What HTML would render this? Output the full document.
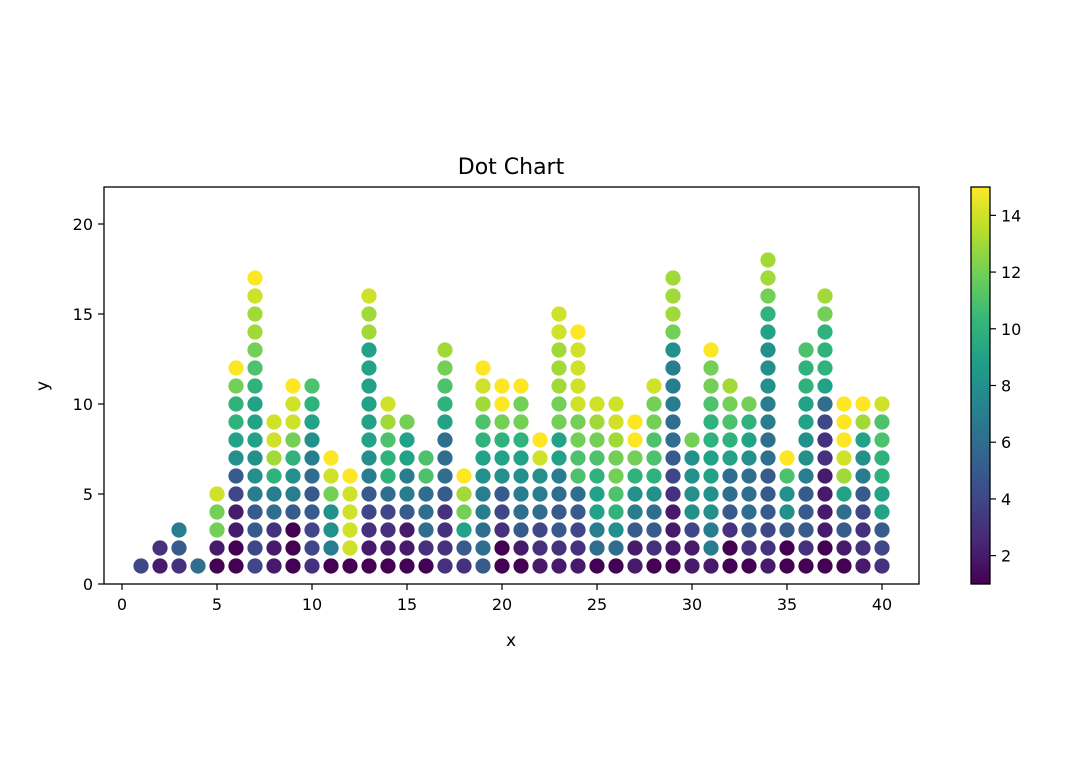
<!DOCTYPE html>
<html><head><meta charset="utf-8"><style>
body{margin:0;background:#fff;}
svg text{font-family:"DejaVu Sans","Liberation Sans",sans-serif;fill:#000;}
</style></head><body>
<svg id="chart" width="1080" height="766" viewBox="0 0 1080 766" xmlns="http://www.w3.org/2000/svg">
<rect width="1080" height="766" fill="#fff"/>
<text x="511" y="174" font-size="22" text-anchor="middle">Dot Chart</text>
<g id="dots"></g>
<rect x="104" y="187" width="815" height="397" fill="none" stroke="#000" stroke-width="1.3"/>
<g id="xticks"></g>
<g id="yticks"></g>
<text x="511" y="646" font-size="17" text-anchor="middle">x</text>
<text x="48" y="386" font-size="17" text-anchor="middle" transform="rotate(-90 48 386)">y</text>
<defs><linearGradient id="vir" x1="0" y1="1" x2="0" y2="0"></linearGradient></defs>
<rect x="971" y="187" width="19" height="397" fill="url(#vir)" stroke="#000" stroke-width="1.3"/>
<g id="cticks"></g>
</svg>
<script>
const heights=[1,2,3,1,5,12,17,9,11,11,7,6,16,10,9,7,13,6,12,11,11,8,15,14,10,10,9,11,17,8,13,11,10,18,7,13,16,10,10,10];
const colorValues=[
[4],[2,3],[3,5,7],[6],[1,2,12,12,14],
[1,1,2,2,4,5,8,9,10,10,12,15],
[4,4,5,5,7,8,8,9,9,9,10,11,12,13,13,14,15],
[2,2,3,6,7,10,13,14,14],
[1,1,1,5,7,8,10,12,14,14,15],
[3,4,4,5,5,6,7,8,9,10,11],
[1,7,8,8,12,14,15],
[1,14,14,14,14,15],
[1,2,3,4,5,7,8,9,9,9,9,9,9,13,13,14],
[1,2,3,4,6,10,10,11,13,14],
[1,2,2,5,7,7,9,9,12],
[1,3,6,6,6,11,11],
[3,3,3,3,5,6,6,6,9,10,11,12,13],
[3,5,9,12,13,15],
[5,6,6,7,7,8,9,10,11,13,14,15],
[1,1,3,4,5,8,9,10,12,15,15],
[1,2,5,6,7,8,9,10,12,12,15],
[2,3,4,6,7,8,14,15],
[2,3,5,5,6,7,9,9,12,12,13,13,13,14,14],
[2,3,4,5,6,11,11,12,12,14,14,14,14,15],
[1,6,7,9,9,10,11,12,13,14],
[1,6,8,10,11,12,12,13,14,14],
[2,2,5,7,8,10,12,15,15],
[1,3,5,6,8,10,11,11,12,12,14],
[1,2,2,2,3,4,5,6,6,7,7,7,8,12,13,13,13,14],
[2,2,4,8,8,8,8,12],
[2,7,7,8,8,9,9,10,10,11,12,12,15],
[1,1,3,5,6,6,9,10,11,12,13],
[1,3,5,6,6,6,8,9,10,12],
[2,3,4,5,5,5,6,6,7,7,8,8,8,9,10,12,13,13],
[1,1,5,8,8,11,15],
[1,3,5,5,5,7,8,8,9,9,10,10,11],
[1,1,2,2,2,2,3,3,4,6,9,10,10,10,12,13],
[1,2,5,6,9,13,14,15,15,15],
[2,3,3,4,5,7,8,9,13,15],
[3,4,5,9,9,10,10,11,11,14]];
const xTickLabels=[0,5,10,15,20,25,30,35,40];
const yTickLabels=[0,5,10,15,20];
const cTickLabels=[2,4,6,8,10,12,14];
const vmin=1,vmax=15;
const vir=["#440154","#482878","#3e4989","#31688e","#26828e","#1f9e89","#35b779","#6ece58","#b5de2b","#fde725"];
const NS="http://www.w3.org/2000/svg";
const sx=v=>122+v*19, sy=v=>584-v*18, sc=v=>584-(v-vmin)/(vmax-vmin)*397;
function hex(h){return [1,3,5].map(i=>parseInt(h.substr(i,2),16));}
function cmap(v){let t=Math.max(0,Math.min(1,(v-vmin)/(vmax-vmin)))*(vir.length-1);let i=Math.min(Math.floor(t),vir.length-2),f=t-i;const a=hex(vir[i]),b=hex(vir[i+1]);return "rgb("+a.map((c,k)=>Math.round(c+(b[k]-c)*f)).join(",")+")";}
function mk(tag,attrs,parent){const e=document.createElementNS(NS,tag);for(const k in attrs)e.setAttribute(k,attrs[k]);parent.appendChild(e);return e;}
const g=document.getElementById("dots");
heights.forEach((h,i)=>{for(let j=0;j<h;j++){const v=colorValues[i][j]!==undefined?colorValues[i][j]:colorValues[i][colorValues[i].length-1];
const c=mk("circle",{cx:sx(i+1),cy:sy(j+1),r:7.6,fill:cmap(v)},g);

}});
const gr=document.getElementById("vir");
vir.forEach((c,i)=>mk("stop",{offset:(i/(vir.length-1)),"stop-color":c},gr));
const xt=document.getElementById("xticks");
xTickLabels.forEach(v=>{const l=mk("line",{x1:sx(v),x2:sx(v),y1:584,y2:590,stroke:"#000","stroke-width":1.2},xt);


const t=mk("text",{x:sx(v),y:610,"font-size":16,"text-anchor":"middle"},xt);t.textContent=v;

});
const yt=document.getElementById("yticks");
yTickLabels.forEach(v=>{const l=mk("line",{x1:98,x2:104,y1:sy(v),y2:sy(v),stroke:"#000","stroke-width":1.2},yt);


const t=mk("text",{x:93,y:sy(v)+6,"font-size":16,"text-anchor":"end"},yt);t.textContent=v;

});
const ct=document.getElementById("cticks");
cTickLabels.forEach(v=>{const l=mk("line",{x1:990,x2:996,y1:sc(v),y2:sc(v),stroke:"#000","stroke-width":1.2},ct);


const t=mk("text",{x:1001,y:sc(v)+6,"font-size":16},ct);t.textContent=v;

});
</script>
</body></html>
